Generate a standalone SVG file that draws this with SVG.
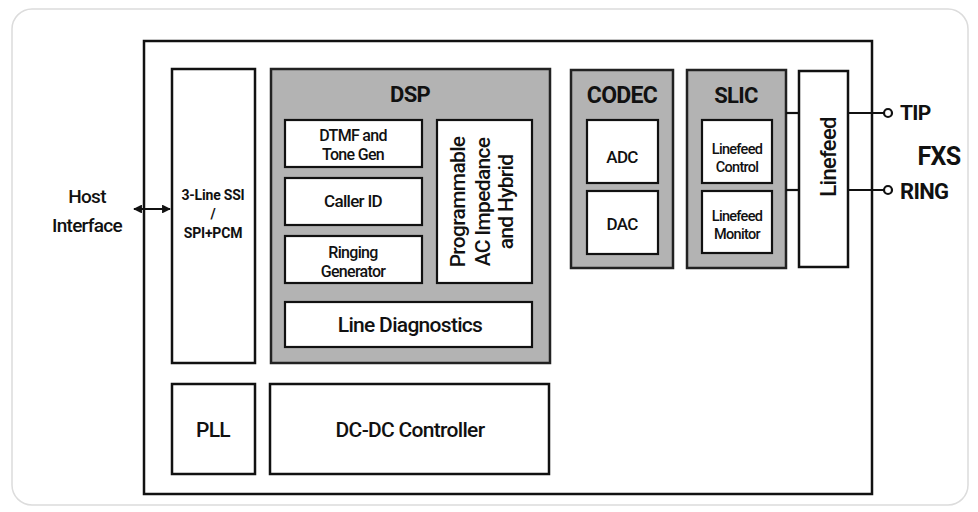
<svg xmlns="http://www.w3.org/2000/svg" width="978" height="512" viewBox="0 0 978 512">
<style>
text{font-family:Roboto,"Liberation Sans",sans-serif;fill:#111;text-anchor:middle;letter-spacing:-0.7px;font-weight:500}
.box{fill:#fff;stroke:#111;stroke-width:2.5}
.gray{fill:#b3b3b3;stroke:#222;stroke-width:2.5}
.in{fill:#fff;stroke:#111;stroke-width:2.2}
.t{font-size:19px}
.s{font-size:17px}
.s2{font-size:16px}
.m{font-size:21px}
.l{font-size:14.5px}
.b{font-weight:bold;font-size:22px}
.ssi{font-size:14px;font-weight:bold;letter-spacing:-0.2px}
.wire{stroke:#111;stroke-width:2.2;fill:none}
</style>
<defs>
<marker id="ah" viewBox="0 0 10 10" refX="9" refY="5" markerWidth="4" markerHeight="4" orient="auto-start-reverse">
<path d="M0,0 L10,5 L0,10 z" fill="#111"/>
</marker>
</defs>
<rect x="12" y="9" width="956" height="496" rx="20" fill="#fff" stroke="#dcdcdc" stroke-width="1.5"/>
<g id="chip"><rect class="box" x="144" y="41" width="728" height="453"/></g>
<g id="host"><text class="t" x="87" y="203">Host</text><text class="t" x="87" y="232">Interface</text></g>
<g id="ssi"><rect class="box" x="172" y="69" width="83" height="294"/>
<text class="ssi" x="213" y="200">3-Line SSI</text>
<text class="ssi" x="213" y="219">/</text>
<text class="ssi" x="213" y="238">SPI+PCM</text></g>
<g id="dsp"><rect class="gray" x="271" y="69" width="279" height="294"/>
<text class="b" x="410" y="102">DSP</text></g>
<g id="dtmf"><rect class="in" x="285" y="120" width="137" height="47"/>
<text class="s2" x="353" y="141">DTMF and</text><text class="s2" x="353" y="160">Tone Gen</text></g>
<g id="callerid"><rect class="in" x="285" y="178" width="137" height="47"/>
<text class="s" x="353" y="207">Caller ID</text></g>
<g id="ringing"><rect class="in" x="285" y="236" width="137" height="47"/>
<text class="s2" x="353" y="258">Ringing</text><text class="s2" x="353" y="277">Generator</text></g>
<g id="prog"><rect class="in" x="437" y="120" width="95" height="163"/>
<g transform="translate(484,202) rotate(-90)">
<text class="m" x="0" y="-19">Programmable</text>
<text class="m" x="0" y="6">AC Impedance</text>
<text class="m" x="0" y="29">and Hybrid</text></g></g>
<g id="linediag"><rect class="in" x="285" y="302" width="247" height="45"/>
<text class="m" x="410" y="332">Line Diagnostics</text></g>
<g id="codec"><rect class="gray" x="571" y="70" width="102" height="198"/>
<text class="b" x="622" y="103" style="font-size:23px">CODEC</text></g>
<g id="adc"><rect class="in" x="587" y="120" width="71" height="63"/><text class="s" x="622" y="163">ADC</text></g>
<g id="dac"><rect class="in" x="587" y="191" width="71" height="63"/><text class="s" x="622" y="230">DAC</text></g>
<g id="slic"><rect class="gray" x="687" y="70" width="99" height="198"/>
<text class="b" x="736" y="103">SLIC</text></g>
<g id="lfctrl"><rect class="in" x="702" y="120" width="70" height="63"/>
<text class="l" x="737" y="154">Linefeed</text><text class="l" x="737" y="172">Control</text></g>
<g id="lfmon"><rect class="in" x="702" y="191" width="70" height="62"/>
<text class="l" x="737" y="221">Linefeed</text><text class="l" x="737" y="239">Monitor</text></g>
<g id="linefeed"><rect class="box" x="799" y="71" width="49" height="196"/>
<text transform="translate(836,157) rotate(-90)" x="0" y="0" style="font-size:22px">Linefeed</text></g>
<g id="pll"><rect class="box" x="172" y="384" width="83" height="90"/><text class="m" x="213" y="437">PLL</text></g>
<g id="dcdc"><rect class="box" x="270" y="384" width="279" height="90"/><text class="m" x="410" y="437">DC-DC Controller</text></g>
<g id="connectors">
<line class="wire" x1="134" y1="209" x2="170" y2="209" marker-start="url(#ah)" marker-end="url(#ah)"/>
<line class="wire" x1="786" y1="113" x2="799" y2="113"/>
<line class="wire" x1="786" y1="190" x2="799" y2="190"/>
<line class="wire" x1="848" y1="113" x2="884" y2="113"/>
<line class="wire" x1="848" y1="190" x2="884" y2="190"/>
<circle cx="888" cy="113" r="4" fill="#fff" stroke="#111" stroke-width="2.2"/>
<circle cx="888" cy="190" r="4" fill="#fff" stroke="#111" stroke-width="2.2"/>
</g>
<g id="labels">
<text class="b" x="900" y="120" style="text-anchor:start;font-size:21px">TIP</text>
<text class="b" x="900" y="199" style="text-anchor:start">RING</text>
<text class="b" x="939" y="165" style="font-size:25px">FXS</text>
</g>
</svg>
